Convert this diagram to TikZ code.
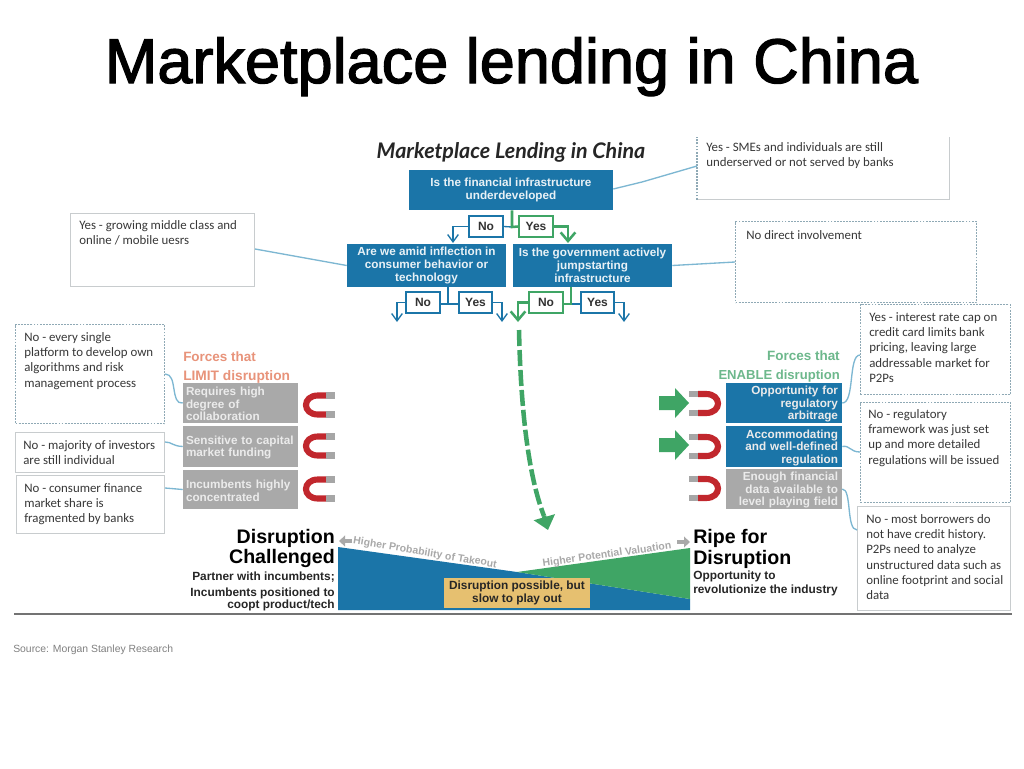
\documentclass[tikz,border=0pt]{standalone}
\usepackage{fontspec}
\usetikzlibrary{arrows.meta,calc}
\setmainfont{Liberation Sans}
\newfontfamily\titlefont[FakeBold=2]{Liberation Sans}
\newfontfamily\notefont{Carlito}
\newfontfamily\subfont{Lato}
\definecolor{mblue}{HTML}{1B75A8}
\definecolor{mgreen}{HTML}{3FA565}
\definecolor{mgray}{HTML}{A9A9A9}
\definecolor{conn}{HTML}{7DB7D2}
\definecolor{limitc}{HTML}{E8937A}
\definecolor{enablec}{HTML}{6DB88C}
\definecolor{magred}{HTML}{C1272D}
\definecolor{yel}{HTML}{E6C070}
\definecolor{edge}{HTML}{C8CCCE}
\definecolor{dashc}{HTML}{8FA9B5}
\tikzset{
 wh/.style 2 args={minimum width=#1*0.75pt,minimum height=#2*0.75pt},
 q/.style={fill=mblue,draw=none,text=white!90!mblue,font=\fontsize{8.8}{9.6}\selectfont\bfseries,align=center,inner sep=0pt,execute at begin node={\rule{0pt}{8.2pt}}},
 force/.style={fill=#1,draw=none,text=white!92!black,font=\fontsize{8.8}{9.4}\selectfont\bfseries,inner sep=0pt,execute at begin node={\rule{0pt}{8pt}}},
 yn/.style={draw=#1,fill=white,line width=1.3pt,font=\fontsize{9}{10}\selectfont\bfseries,text=black!80,inner sep=0pt},
 bl/.style={draw=mblue,line width=1pt},
 gr/.style={draw=mgreen,line width=1.9pt},
 blar/.style={bl,-{Straight Barb[length=5.5pt,width=8pt]}},
 grar/.style={gr,-{Straight Barb[length=6.5pt,width=11pt]}},
 notebox/.style={fill=white,draw=edge,line width=0.8pt,inner sep=0pt},
 dashbox/.style={fill=white,draw=dashc,dash pattern=on 1.4pt off 0.9pt,line width=0.9pt,inner sep=0pt},
 note/.style={font=\notefont\fontsize{9.65}{11.5}\selectfont,text=black!78,align=left,anchor=north west,inner sep=0pt},
 lk/.style={draw=conn,line width=1pt},
 big/.style={font=\fontsize{14.7}{15.5}\selectfont\bfseries,text=black,inner sep=0pt},
 small/.style={font=\fontsize{8.9}{10}\selectfont\bfseries,text=black!85,inner sep=0pt},
 slope/.style={font=\fontsize{7.85}{9}\selectfont\bfseries,text=mgray,inner sep=0pt},
 pics/magnet/.style={code={
   \draw[magred,line width=4.6pt] (10,-9.5) -- (2,-9.5) .. controls (-14,-9.5) and (-14,9.5) .. (2,9.5) -- (10,9.5);
   \draw[gray!70,line width=4.6pt] (10,-9.5) -- (19,-9.5);
   \draw[gray!70,line width=4.6pt] (10,9.5) -- (19,9.5);
 }},
 push/.style={fill=mgreen,draw=none}
}
\begin{document}
\begin{tikzpicture}[x=0.75pt,y=-0.75pt]
\path[use as bounding box,fill=white] (0,0) rectangle (1024,768);
% title
\node[font=\titlefont\fontsize{47.3}{50}\selectfont,inner sep=0pt,anchor=base] (title) at (511.5,83) {Marketplace lending in China};
\node[font=\subfont\fontsize{16.1}{18}\selectfont\bfseries\itshape,text=black!85,inner sep=0pt] (sub) at (511,152) {Marketplace Lending in China};
% side note boxes at top
\node[fill=white,draw=none,wh={252}{62},anchor=north west,inner sep=0pt] (nSme) at (697,137) {};
\draw[edge,line width=0.8pt] (nSme.north east) -- (nSme.south east) -- (nSme.south west);
\draw[dashc,line width=0.9pt,dash pattern=on 1.4pt off 0.9pt] (nSme.south west) -- (nSme.north west);
\node[dashbox,wh={241}{81},anchor=north west] (nDirect) at (735,221) {};
\node[notebox,wh={184}{73},anchor=north west] (nGrow) at (70,213) {};
% question boxes
\node[q,wh={204}{40}] (q1) at (511,190) {Is the financial infrastructure\\underdeveloped};
\node[q,wh={159}{43}] (q2) at (426.5,265.5) {Are we amid inflection in\\consumer behavior or\\technology};
\node[q,wh={159}{43}] (q3) at (592.5,265.5) {Is the government actively\\jumpstarting\\infrastructure};
% connectors for notes
\draw[lk] (q1.east |- 0,189) -- (642,182) -- (nSme.west |- 0,166);
\draw[lk] (q3.east) -- (nDirect.west |- 0,262);
\draw[lk] (q2.west) -- (nGrow.east |- 0,249);
% yes/no level 1
\node[yn=mblue,wh={34}{21}] (no1) at (486,226.5) {No};
\node[yn=mgreen,wh={34}{21}] (yes1) at (536,226.5) {Yes};
\coordinate (j1) at (512,227);
\coordinate (a1) at (453,243);
\coordinate (a2) at (568,243);
\draw[bl] (no1.east) -- (j1);
\draw[blar] (no1.west) -| (a1);
\draw[gr] (q1.south -| j1) -- (j1) -- (yes1.west);
\draw[grar] (yes1.east) -| (a2);
% yes/no level 2
\node[yn=mblue,wh={34}{21}] (no2) at (423,302.5) {No};
\node[yn=mblue,wh={33}{21}] (yes2) at (475.5,302.5) {Yes};
\node[yn=mgreen,wh={34}{21}] (no3) at (546,302.5) {No};
\node[yn=mblue,wh={33}{21}] (yes3) at (597.5,302.5) {Yes};
\coordinate (j2) at (448,304);
\coordinate (j3) at (571,304);
\coordinate (a3) at (397,322);
\coordinate (a4) at (502,322);
\coordinate (a5) at (518,322);
\coordinate (a6) at (624,322);
\draw[bl] (q2.south -| j2) -- (j2) -- (no2.east |- j2);
\draw[bl] (j2) -- (yes2.west |- j2);
\draw[blar] (no2.west) -| (a3);
\draw[blar] (yes2.east) -| (a4);
\draw[bl] (j3) -- (yes3.west |- j3);
\draw[gr] (q3.south -| j3) -- (j3) -- (no3.east |- j3);
\draw[grar] (no3.west) -| (a5);
\draw[blar] (yes3.east) -| (a6);
% dashed path
\coordinate (p0) at (519,330);
\coordinate (p1) at (548,530);
\coordinate (p2) at (544,516);
\draw[mgreen,line width=3.4pt,dash pattern=on 12pt off 3pt] (p0) .. controls (521,420) and (530,480) .. (p2);
\draw[mgreen,line width=3.4pt,-{Triangle[length=10pt,width=16pt]}] (p2) -- (p1);
% limit side
\node[font=\fontsize{10.1}{12}\selectfont\bfseries,text=limitc,anchor=west,inner sep=0pt] (lim1) at (183,357) {Forces that};
\node[font=\fontsize{10.3}{12}\selectfont\bfseries,text=limitc,anchor=west,inner sep=0pt] (lim2) at (183,376.5) {LIMIT disruption};
\node[dashbox,wh={149}{99},anchor=north west] (nA) at (15,324) {};
\node[notebox,wh={149}{40},anchor=north west] (nB) at (15,432) {};
\node[notebox,wh={148}{58},anchor=north west] (nC) at (16,475) {};
\node[force=mgray,wh={115}{40},text width=109*0.75pt,align=left] (fA) at (240.5,403) {Requires high\\degree of\\collaboration};
\node[force=mgray,wh={115}{41},text width=109*0.75pt,align=left] (fB) at (240.5,446.5) {Sensitive to capital\\market funding};
\node[force=mgray,wh={115}{39},text width=109*0.75pt,align=left] (fC) at (240.5,489.5) {Incumbents highly\\concentrated};
\draw[lk] (nA.east |- 0,374) .. controls (178,374) and (170,405) .. (fA.west);
\draw[lk] (nB.east |- 0,442) .. controls (172,442) and (172,446) .. (fB.west);
\draw[lk] (nC.east |- 0,488) -- (fC.west);
\node[note] (tA) at (24,332) {No - every single\\platform to develop own\\algorithms and risk\\management process};
\node[note] (tB) at (23,440) {No - majority of investors\\are still individual};
\node[note] (tC) at (24,483) {No - consumer finance\\market share is\\fragmented by banks};
\pic at (316,405) {magnet};
\pic at (316,446) {magnet};
\pic at (316,489) {magnet};
% enable side
\node[font=\fontsize{10.1}{12}\selectfont\bfseries,text=enablec,anchor=east,inner sep=0pt] (en1) at (840,356) {Forces that};
\node[font=\fontsize{9.8}{12}\selectfont\bfseries,text=enablec,anchor=east,inner sep=0pt] (en2) at (840,376) {ENABLE disruption};
\node[force=mblue,wh={116}{40},text width=108*0.75pt,align=right] (fD) at (784,403) {Opportunity for\\regulatory\\arbitrage};
\node[force=mblue,wh={116}{41},text width=108*0.75pt,align=right] (fE) at (784,446.5) {Accommodating\\and well-defined\\regulation};
\node[force=mgray,wh={116}{40},text width=108*0.75pt,align=right] (fF) at (784,489) {Enough financial\\data available to\\level playing field};
\node[dashbox,wh={150}{90},anchor=north west] (nD) at (860,304) {};
\node[dashbox,wh={150}{100},anchor=north west] (nE) at (860,402) {};
\node[notebox,wh={153}{104},anchor=north west] (nF) at (857,506) {};
\draw[lk] (fD.east) .. controls (855,403) and (848,355) .. (nD.west |- 0,355);
\draw[lk] (fE.east) .. controls (850,445) and (850,452) .. (nE.west |- 0,452);
\draw[lk] (fF.east) .. controls (852,489) and (846,530) .. (nF.west |- 0,530);
\node[note] (tD) at (869,312) {Yes - interest rate cap on\\credit card limits bank\\pricing, leaving large\\addressable market for\\P2Ps};
\node[note] (tE) at (868,409) {No - regulatory\\framework was just set\\up and more detailed\\regulations will be issued};
\node[note] (tF) at (866,514) {No - most borrowers do\\not have credit history.\\P2Ps need to analyze\\unstructured data such as\\online footprint and social\\data};
\node[note] (tS) at (706,142) {Yes  - SMEs and individuals are still\\underserved or not served by banks};
\node[note] (tG) at (746,230) {No direct involvement};
\node[note] (tH) at (79,220) {Yes - growing middle class and\\online / mobile uesrs};
\pic[xscale=-1] at (708,403.5) {magnet};
\pic[xscale=-1] at (708,446.5) {magnet};
\pic[xscale=-1] at (708,488.5) {magnet};
\fill[push] (659,396) -- (675,396) -- (675,388) -- (689,403) -- (675,418) -- (675,410) -- (659,410) -- cycle;
\fill[push] (659,438) -- (675,438) -- (675,430) -- (689,445) -- (675,460) -- (675,452) -- (659,452) -- cycle;
% bottom wedge
\fill[mblue] (338,547) -- (517,572) -- (690,599) -- (690,610) -- (338,610) -- cycle;
\fill[mgreen] (517,572) -- (690,548) -- (690,599) -- cycle;
\node[fill=yel,draw=none,wh={146}{30},font=\fontsize{8.9}{9.6}\selectfont\bfseries,text=black!85,align=center,inner sep=0pt] (mid) at (517,593) {Disruption possible, but\\slow to play out};
\draw[black!55,line width=1.1pt] (14,614) -- (1012,614);
\node[big,anchor=east] (dc1) at (335,538) {Disruption};
\node[big,anchor=east] (dc2) at (335,558.5) {Challenged};
\node[small,anchor=east] (dc3) at (335,577) {Partner with incumbents;};
\node[small,anchor=east] (dc4) at (335,593) {Incumbents positioned to};
\node[small,anchor=east] (dc5) at (335,605) {coopt product/tech};
\node[big,anchor=west] (rd1) at (693,538) {Ripe for};
\node[big,anchor=west] (rd2) at (693,559) {Disruption};
\node[small,anchor=west] (rd3) at (693,576) {Opportunity to};
\node[small,anchor=west] (rd4) at (693,590) {revolutionize the industry};
\node[slope,rotate=-9.5] (s1) at (425,553) {Higher Probability of Takeout};
\node[slope,rotate=8] (s2) at (607,555) {Higher Potential Valuation};
\coordinate (g1) at (339,541);
\coordinate (g2) at (352,541);
\coordinate (g3) at (677,542);
\coordinate (g4) at (690,542);
\draw[mgray,line width=3pt,-{Triangle[length=4.5pt,width=8pt]}] (g2) -- (g1);
\draw[mgray,line width=3pt,-{Triangle[length=4.5pt,width=8pt]}] (g3) -- (g4);
\node[font=\fontsize{7.8}{10}\selectfont,text=black!50,anchor=west,inner sep=0pt] (src) at (13,649.5) {Source: Morgan Stanley Research};
\end{tikzpicture}
\end{document}
